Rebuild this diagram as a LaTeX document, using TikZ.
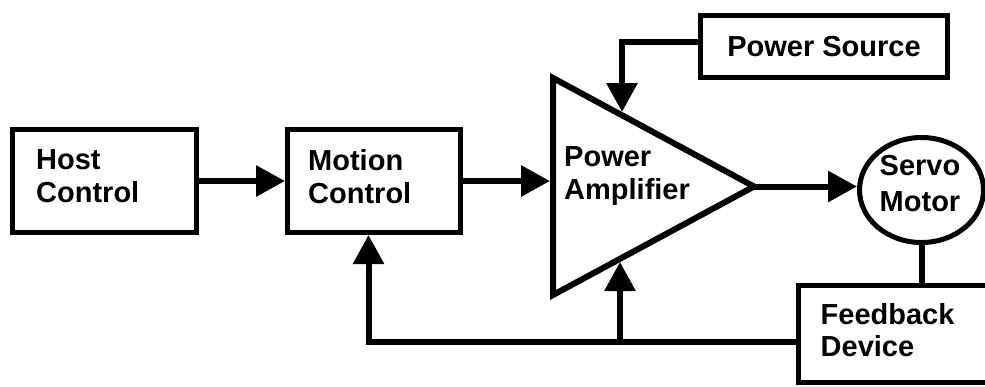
\documentclass[tikz,border=0pt]{standalone}
\usepackage{fontspec}
\setmainfont{Liberation Sans}
\usetikzlibrary{arrows.meta,shapes.geometric}

\tikzset{
  block/.style={draw, line width=5bp, inner sep=0pt, minimum height=103bp},
  lbl/.style={anchor=north west, inner sep=0pt, align=left},
  wire/.style={line width=6bp, line join=miter},
  arr/.style={wire, -{Triangle[length=29bp,width=30bp]}}
}

\begin{document}
\begin{tikzpicture}[x=1bp, y=-1bp, font=\bfseries\fontsize{29bp}{33bp}\selectfont]
\clip[use as bounding box] (0,0) rectangle (985,386);
% blocks
\node[block, minimum width=184bp] (host) at (104.5,181) {};
\node[block, minimum width=173bp] (motion) at (374,181) {};
\node[block, minimum width=247bp, minimum height=62bp] (src) at (824,46.5) {Power Source};
\node[block, minimum width=212bp, minimum height=97bp] (fb) at (904.5,334) {};
\node[draw, ellipse, line width=5bp, inner sep=0pt,
  minimum width=124bp, minimum height=105bp] (servo) at (921.5,190) {};
% amplifier
\coordinate (amptop) at (553,78);
\coordinate (ampbot) at (553,295);
\coordinate (amptip) at (754,186.5);
\draw[line width=6bp, line join=miter] (amptop) -- (amptip) -- (ampbot) -- cycle;
\coordinate (ampin) at (550,181);
\coordinate (ampup) at (622,112);
\coordinate (ampdn) at (620,262);
\coordinate (fbtap) at ([yshift=-7.5bp]fb.west);
\coordinate (mcin) at ([xshift=-5.5bp]motion.south);
% labels
\node[lbl] (hostlbl) at (36,149.2) {Host\\Control};
\node[lbl] (motionlbl) at (308,149.2) {Motion\\Control};
\node[lbl] (amplbl) at (564,146) {Power\\Amplifier};
\node[lbl, anchor=north, align=center,
  font=\bfseries\fontsize{29bp}{36.5bp}\selectfont] (servolbl) at (920,155) {Servo\\Motor};
\node[lbl, font=\bfseries\fontsize{29bp}{31.7bp}\selectfont] (fblbl) at (820.5,303.3) {Feedback\\Device};
% connectors
\draw[arr] (host) -- (motion);
\draw[arr] (motion.east) -- (ampin);
\draw[arr] (amptip) -- (amptip -| servo.west);
\draw[arr] ([yshift=4.5bp]src.west) -| (ampup);
\draw[wire] (servo.south) -- (servo.south |- fb.north);
\draw[arr] (fbtap) -| (mcin);
\draw[arr] (ampdn |- fbtap) -- (ampdn);
\end{tikzpicture}
\end{document}
